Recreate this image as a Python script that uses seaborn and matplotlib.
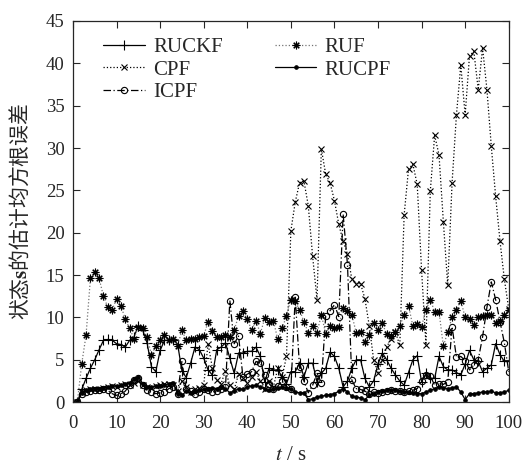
import numpy as np
import pandas as pd
import seaborn as sns
import matplotlib
matplotlib.use("Agg")
from matplotlib import pyplot as plt

# time axis (s)
t = np.arange(1, 101)

ruckf = [0, 1.5, 2.8, 4.0, 5.0, 6.2, 7.3, 7.4, 7.3, 6.9,
         6.8, 6.5, 7.3, 7.7, 9.0, 8.5, 7.0, 4.2, 3.6, 6.1,
         7.3, 7.3, 7.3, 6.9, 3.7, 2.9, 4.6, 6.5, 6.2, 5.2,
         3.8, 3.2, 6.2, 6.5, 7.0, 5.2, 3.4, 5.8, 5.8, 6.0,
         6.0, 6.5, 5.4, 2.4, 4.0, 3.8, 3.8, 3.0, 2.2, 3.6,
         3.6, 4.6, 3.0, 4.6, 4.6, 2.4, 3.4, 4.0, 5.9, 5.4,
         4.0, 1.8, 2.5, 4.0, 5.0, 5.0, 2.8, 1.8, 2.5, 4.5,
         5.8, 5.0, 4.0, 3.2, 2.5, 2.0, 3.5, 5.0, 5.5, 2.4,
         3.4, 2.8, 2.8, 5.4, 4.2, 3.8, 3.8, 3.5, 3.2, 4.5,
         6.1, 5.0, 4.8, 3.6, 4.0, 4.4, 6.9, 5.6, 4.8, 4.8]

cpf = [0, 1.2, 1.4, 1.5, 1.6, 1.5, 1.7, 1.8, 1.9, 1.8,
       2.0, 2.1, 2.0, 2.3, 2.5, 2.0, 1.8, 1.7, 1.9, 2.0,
       2.1, 2.2, 2.0, 1.3, 2.5, 1.8, 1.2, 1.5, 1.7, 2.0,
       6.9, 4.0, 2.6, 2.2, 3.7, 2.0, 1.5, 3.3, 2.9, 2.3,
       3.0, 3.6, 2.5, 1.6, 2.5, 1.8, 4.0, 3.0, 5.4, 20.2,
       23.6, 25.9, 26.1, 23.2, 17.2, 12.1, 29.9, 26.9, 25.9, 23.8,
       21.0, 19.0, 17.5, 14.5, 14.0, 14.0, 12.2, 9.0, 5.0, 3.5,
       5.0, 6.5, 7.5, 8.3, 6.7, 22.1, 27.5, 28.1, 25.7, 15.6,
       6.8, 24.9, 31.5, 29.2, 21.3, 13.8, 25.9, 33.9, 39.8, 33.9,
       40.9, 41.4, 36.9, 41.8, 36.9, 30.2, 24.3, 19.0, 14.5, 11.0]

icpf = [0, 1.0, 1.2, 1.3, 1.4, 1.4, 1.5, 1.4, 1.0, 0.8,
        1.0, 1.3, 2.0, 2.6, 2.8, 2.0, 1.4, 1.2, 1.0, 1.1,
        1.2, 1.6, 1.8, 1.0, 4.8, 1.5, 1.3, 1.0, 1.2, 1.5,
        1.4, 1.2, 1.3, 1.5, 1.8, 12.0, 6.9, 7.8, 3.0, 3.3,
        3.6, 4.8, 4.6, 3.2, 2.2, 1.5, 1.9, 2.5, 1.8, 1.5,
        12.4, 4.1, 2.5, 1.1, 2.0, 3.4, 2.3, 10.2, 10.8, 11.5,
        10.1, 22.2, 16.2, 2.6, 1.6, 1.5, 1.3, 1.0, 1.2, 1.1,
        1.2, 1.3, 1.4, 1.3, 1.3, 1.2, 1.3, 1.4, 1.6, 2.5,
        3.2, 3.1, 2.0, 2.2, 2.1, 2.4, 8.9, 5.3, 5.4, 4.9,
        3.8, 4.4, 5.0, 7.7, 11.2, 14.2, 12.1, 9.5, 7.0, 3.6]

ruf = [0, 4.5, 7.9, 14.6, 15.4, 14.6, 12.5, 11.2, 10.9, 12.2,
       11.4, 9.8, 8.7, 7.5, 8.9, 8.8, 7.7, 5.6, 6.6, 7.3,
       7.9, 7.3, 7.4, 6.6, 8.5, 7.3, 7.4, 7.5, 7.7, 7.8,
       9.5, 8.4, 7.7, 7.7, 7.9, 7.7, 8.5, 10.2, 10.8, 9.8,
       8.5, 9.6, 8.1, 9.9, 9.5, 9.6, 7.4, 8.7, 10.2, 12.1,
       11.9, 10.9, 9.5, 8.2, 9.0, 8.2, 10.3, 8.1, 9.0, 8.7,
       8.9, 11.1, 10.8, 10.3, 8.2, 8.3, 7.1, 7.9, 9.4, 8.5,
       9.3, 8.0, 7.8, 8.3, 9.0, 10.3, 11.4, 9.0, 9.2, 8.9,
       10.9, 12.1, 10.7, 10.7, 6.6, 8.3, 10.0, 10.9, 12.0, 10.0,
       9.8, 9.1, 10.0, 10.2, 10.3, 10.3, 9.3, 9.6, 10.3, 10.9]

rucpf = [0, 1.1, 1.4, 1.5, 1.6, 1.6, 1.7, 1.8, 1.9, 1.9,
         2.0, 2.1, 2.3, 2.7, 3.0, 2.2, 1.8, 1.8, 1.9, 1.9,
         2.0, 2.2, 2.3, 1.0, 0.8, 1.3, 1.1, 1.3, 1.4, 1.5,
         1.6, 1.7, 1.6, 1.8, 1.6, 1.1, 1.3, 1.6, 1.5, 1.8,
         1.9, 2.0, 1.8, 1.5, 1.4, 1.6, 1.7, 1.8, 1.7, 1.5,
         1.2, 1.1, 1.1, 0.3, 0.4, 0.6, 0.7, 0.8, 0.9, 1.0,
         1.3, 1.6, 1.2, 0.7, 0.6, 0.5, 0.3, 0.8, 1.0, 1.2,
         1.3, 1.4, 1.4, 1.4, 1.3, 1.2, 1.2, 1.1, 1.0, 1.0,
         1.2, 1.4, 1.6, 1.8, 1.7, 1.6, 1.7, 1.8, 1.2, 0.3,
         1.0, 1.0, 1.1, 1.2, 1.2, 1.3, 1.1, 1.1, 1.2, 1.4]

sns.set_style("ticks")
plt.rcParams['font.family'] = ['Liberation Serif', 'Noto Sans CJK SC']
plt.rcParams['mathtext.fontset'] = 'stix'
plt.rcParams['xtick.direction'] = 'in'
plt.rcParams['ytick.direction'] = 'in'

fig = plt.figure(figsize=(5.25, 4.66), dpi=100)
ax = fig.add_axes([0.139, 0.137, 0.83, 0.818])

# one entry per method: name, values, line style, marker, line colour, marker size
styles = [
    ('RUCKF', ruckf, '-', '+', 'black', 7),
    ('CPF', cpf, ':', 'x', 'black', 4),
    ('ICPF', icpf, (0, (6, 2, 1, 2)), 'o', 'black', 4.5),
    ('RUF', ruf, ':', (8, 2, 0), '0.45', 5.5),
    ('RUCPF', rucpf, '-', '.', 'black', 5),
]
for name, vals, ls, mk, col, ms in styles:
    df = pd.DataFrame({'t': t, 'v': vals})
    sns.lineplot(data=df, x='t', y='v', ax=ax, color=col, linestyle=ls,
                 linewidth=0.9, marker=mk, markersize=ms,
                 markerfacecolor='none' if mk == 'o' else 'black',
                 markeredgecolor='black', markeredgewidth=0.8, label=name)

ax.set_xlim(0, 100)
ax.set_ylim(0, 45)
ax.set_xticks(range(0, 101, 10))
ax.set_yticks(range(0, 46, 5))
ax.tick_params(labelsize=13.5, top=True, right=True, length=5, width=0.8)
ax.tick_params(axis='x', pad=9)
ax.tick_params(axis='y', pad=6)
for s in ax.spines.values():
    s.set_linewidth(0.9)
    s.set_visible(True)

ax.set_xlabel('$t$ / s', fontsize=15, labelpad=10)
ax.set_ylabel('状态$\\mathbf{s}$的估计均方根误差', fontsize=15,
              family=['Noto Sans CJK SC'], labelpad=10)

ax.legend(ncol=2, frameon=False, loc='upper left', bbox_to_anchor=(0.04, 0.99),
          fontsize=15, handlelength=2.0, labelspacing=0.15, columnspacing=2.5,
          handletextpad=0.4, borderaxespad=0.2)

fig.savefig('out.png', dpi=100)
